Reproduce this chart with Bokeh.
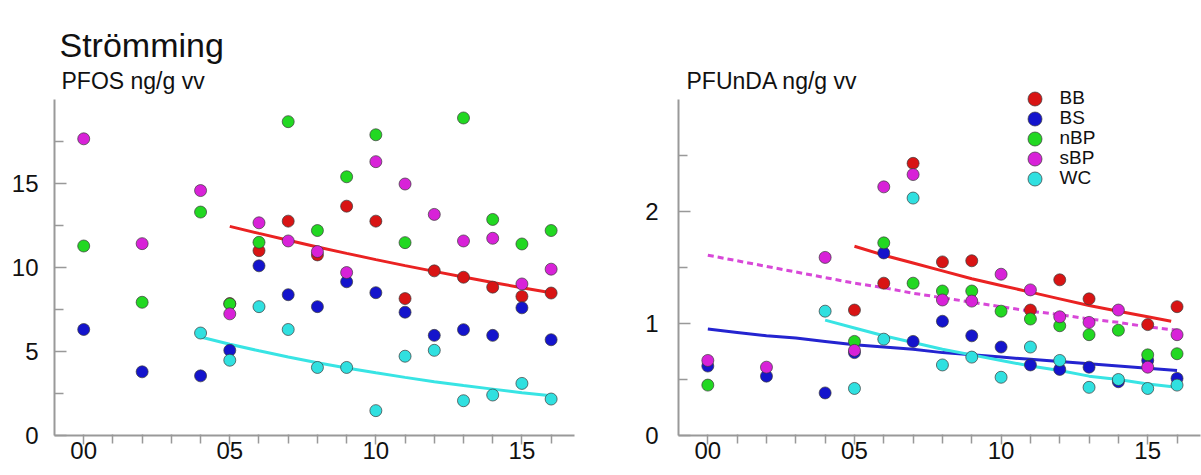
from bokeh.plotting import figure
from bokeh.layouts import row
from bokeh.models import Range1d, FixedTicker, Label, Legend, LegendItem
from bokeh.embed import file_html
from bokeh.resources import INLINE

# ---------------- data ----------------
SERIES = ["BB", "BS", "nBP", "sBP", "WC"]

# PFOS ng/g vv (year offset from 2000)
pfos_BB_years = [5, 6, 7, 8, 9, 10, 11, 12, 13, 14, 15, 16]
pfos_BB = [7.85, 11.0, 12.76, 10.75, 13.65, 12.76, 8.15, 9.8, 9.42, 8.83, 8.28, 8.48]
pfos_BS_years = [0, 2, 4, 5, 6, 7, 8, 9, 10, 11, 12, 13, 14, 15, 16]
pfos_BS = [6.31, 3.79, 3.55, 5.07, 10.1, 8.38, 7.67, 9.15, 8.5, 7.34, 5.96, 6.3, 5.96, 7.6, 5.7]
pfos_nBP_years = [0, 2, 4, 5, 6, 7, 8, 9, 10, 11, 13, 14, 15, 16]
pfos_nBP = [11.28, 7.93, 13.3, 7.83, 11.5, 18.68, 12.2, 15.4, 17.9, 11.48, 18.9, 12.86, 11.4, 12.2]
pfos_sBP_years = [0, 2, 4, 5, 6, 7, 8, 9, 10, 11, 12, 13, 14, 15, 16]
pfos_sBP = [17.66, 11.42, 14.58, 7.24, 12.66, 11.58, 10.95, 9.7, 16.3, 14.97, 13.16, 11.58, 11.74, 9.02, 9.9]
pfos_WC_years = [4, 5, 6, 7, 8, 9, 10, 11, 12, 13, 14, 15, 16]
pfos_WC = [6.1, 4.48, 7.67, 6.31, 4.05, 4.05, 1.48, 4.72, 5.07, 2.07, 2.41, 3.1, 2.17]

# PFOS trend lines
pfos_trend_BB_years = [5, 6, 7, 8, 9, 10, 11, 12, 13, 14, 15, 16]
pfos_trend_BB = [12.45, 12.03, 11.62, 11.22, 10.84, 10.47, 10.11, 9.77, 9.43, 9.11, 8.80, 8.50]
pfos_trend_WC_years = [4, 5, 6, 7, 8, 9, 10, 11, 12, 13, 14, 15, 16]
pfos_trend_WC = [5.86, 5.43, 5.04, 4.67, 4.33, 4.02, 3.73, 3.46, 3.20, 2.97, 2.76, 2.55, 2.37]

# PFUnDA ng/g vv
pfunda_BB_years = [5, 6, 7, 8, 9, 11, 12, 13, 15, 16]
pfunda_BB = [1.12, 1.36, 2.43, 1.55, 1.56, 1.12, 1.39, 1.22, 0.99, 1.15]
pfunda_BS_years = [0, 2, 4, 5, 6, 7, 8, 9, 10, 11, 12, 13, 14, 15, 16]
pfunda_BS = [0.62, 0.53, 0.38, 0.74, 1.63, 0.84, 1.02, 0.89, 0.79, 0.63, 0.59, 0.61, 0.48, 0.67, 0.51]
pfunda_nBP_years = [0, 5, 6, 7, 8, 9, 10, 11, 12, 13, 14, 15, 16]
pfunda_nBP = [0.45, 0.84, 1.72, 1.36, 1.29, 1.29, 1.11, 1.04, 0.98, 0.90, 0.94, 0.72, 0.73]
pfunda_sBP_years = [0, 2, 4, 5, 6, 7, 8, 9, 10, 11, 12, 13, 14, 15, 16]
pfunda_sBP = [0.67, 0.61, 1.59, 0.76, 2.22, 2.33, 1.21, 1.20, 1.44, 1.30, 1.06, 1.01, 1.12, 0.61, 0.90]
pfunda_WC_years = [4, 5, 6, 7, 8, 9, 10, 11, 12, 13, 14, 15, 16]
pfunda_WC = [1.11, 0.42, 0.86, 2.12, 0.63, 0.70, 0.52, 0.79, 0.67, 0.43, 0.50, 0.42, 0.45]

# PFUnDA trend lines
pfunda_trend_BB_years = [5, 6, 7, 8, 9, 10, 11, 12, 13, 14, 15, 15.8]
pfunda_trend_BB = [1.69, 1.61, 1.54, 1.47, 1.40, 1.34, 1.28, 1.22, 1.16, 1.11, 1.06, 1.02]
pfunda_trend_sBP_years = list(range(0, 17))
pfunda_trend_sBP = [1.61, 1.56, 1.51, 1.46, 1.41, 1.36, 1.32, 1.27, 1.23, 1.19, 1.15, 1.11, 1.08, 1.04, 1.01, 0.97, 0.94]
pfunda_trend_BS_years = list(range(0, 17))
pfunda_trend_BS = [0.95, 0.92, 0.89, 0.87, 0.84, 0.81, 0.79, 0.77, 0.74, 0.72, 0.70, 0.68, 0.66, 0.64, 0.62, 0.60, 0.58]
pfunda_trend_WC_years = [4, 5, 6, 7, 8, 9, 10, 11, 12, 13, 14, 15, 16]
pfunda_trend_WC = [1.03, 0.96, 0.89, 0.83, 0.77, 0.72, 0.67, 0.62, 0.58, 0.53, 0.50, 0.46, 0.43]

x_major = [0, 5, 10, 15]
x_labels = ["00", "05", "10", "15"]
x_minor = [1, 2, 3, 4, 6, 7, 8, 9, 11, 12, 13, 14, 16]

title_text = "Strömming"
left_sub = "PFOS ng/g vv"
right_sub = "PFUnDA ng/g vv"

# ---------------- styles ----------------
FILL = {"BB": "#d81414", "BS": "#1414cc", "nBP": "#22d822", "sBP": "#d822d8", "WC": "#30e0e0"}
LINE = {"BB": "#ea2222", "BS": "#2424d0", "sBP": "#d848d8", "WC": "#38e4e4"}
FONT = "Liberation Sans"
AXIS_COL = "#999999"

H = 475
BOTTOM = 40
FRAME_H = H - BOTTOM          # frame spans the full height above the x axis
AXIS_TOP_PX = 99              # where the drawn y axis ends (screen px from top)
X0, X1 = -1.0, 16.8


def make_panel(width, left, right, ymax_axis, yticks, yminor, ystandoff):
    upp = ymax_axis / (FRAME_H - AXIS_TOP_PX)
    ytop = FRAME_H * upp
    p = figure(width=width, height=H, output_backend="svg", toolbar_location=None,
               x_range=Range1d(X0, X1), y_range=Range1d(0, ytop),
               min_border_left=left, min_border_right=right,
               min_border_top=0, min_border_bottom=BOTTOM)
    p.xgrid.visible = False
    p.ygrid.visible = False
    p.outline_line_color = None
    p.background_fill_color = "white"
    p.border_fill_color = "white"

    xa = p.xaxis[0]
    xa.ticker = FixedTicker(ticks=x_major, minor_ticks=x_minor)
    xa.major_label_overrides = {t: l for t, l in zip(x_major, x_labels)}
    xa.major_tick_in = 1
    xa.major_tick_out = 9
    xa.minor_tick_in = 1
    xa.minor_tick_out = 8
    xa.major_label_standoff = -3

    ya = p.yaxis[0]
    ya.bounds = (0, ymax_axis)
    ya.ticker = FixedTicker(ticks=yticks, minor_ticks=yminor)
    ya.major_tick_in = 12
    ya.major_tick_out = 0
    ya.minor_tick_in = 9
    ya.minor_tick_out = 0
    ya.major_label_standoff = ystandoff

    for ax in (xa, ya):
        ax.axis_line_color = AXIS_COL
        ax.axis_line_width = 2
        ax.major_tick_line_color = AXIS_COL
        ax.minor_tick_line_color = AXIS_COL
        ax.major_tick_line_width = 1.5
        ax.minor_tick_line_width = 1.5
        ax.major_label_text_font = FONT
        ax.major_label_text_font_size = "24px"
        ax.major_label_text_color = "#111111"
    return p, upp


def add_points(p, data):
    rends = {}
    for s in SERIES:
        if s not in data:
            continue
        xs, ys = data[s]
        rends[s] = p.scatter(xs, ys, marker="circle", size=12,
                             fill_color=FILL[s], line_color="#3a3a3a",
                             line_width=1, line_alpha=0.7)
    return rends


def add_trend(p, xs, ys, s, dash="solid"):
    p.line(xs, ys, line_color=LINE[s], line_width=3, line_dash=dash)


def px_to_data(px, py, left, fw, upp):
    x = X0 + (px - left) / fw * (X1 - X0)
    y = (FRAME_H - py) * upp
    return x, y


def add_text(p, px, py, left, fw, upp, text, size):
    x, y = px_to_data(px, py, left, fw, upp)
    p.add_layout(Label(x=x, y=y, text=text, text_font=FONT, text_font_size=size,
                       text_color="#111111", text_align="left", text_baseline="alphabetic"))


# ---------------- left panel: PFOS ----------------
LW, LL, LR = 620, 54, 46
p1, upp1 = make_panel(LW, LL, LR, 20, [0, 5, 10, 15], [2.5, 7.5, 12.5, 17.5], 16)
add_trend(p1, pfos_trend_BB_years, pfos_trend_BB, "BB")
add_trend(p1, pfos_trend_WC_years, pfos_trend_WC, "WC")
add_points(p1, {"BB": (pfos_BB_years, pfos_BB), "BS": (pfos_BS_years, pfos_BS),
                "nBP": (pfos_nBP_years, pfos_nBP), "sBP": (pfos_sBP_years, pfos_sBP),
                "WC": (pfos_WC_years, pfos_WC)})
fw1 = LW - LL - LR
add_text(p1, 59, 44, LL, fw1, upp1, title_text, "34px")
add_text(p1, 61, 80, LL, fw1, upp1, left_sub, "23px")

# ---------------- right panel: PFUnDA ----------------
RW, RL, RR = 581, 58, 1
p2, upp2 = make_panel(RW, RL, RR, 3, [0, 1, 2], [0.5, 1.5, 2.5], 20)
add_trend(p2, pfunda_trend_BB_years, pfunda_trend_BB, "BB")
add_trend(p2, pfunda_trend_sBP_years, pfunda_trend_sBP, "sBP", dash="6 4")
add_trend(p2, pfunda_trend_BS_years, pfunda_trend_BS, "BS")
add_trend(p2, pfunda_trend_WC_years, pfunda_trend_WC, "WC")
r2 = add_points(p2, {"BB": (pfunda_BB_years, pfunda_BB), "BS": (pfunda_BS_years, pfunda_BS),
                     "nBP": (pfunda_nBP_years, pfunda_nBP), "sBP": (pfunda_sBP_years, pfunda_sBP),
                     "WC": (pfunda_WC_years, pfunda_WC)})
fw2 = RW - RL - RR
add_text(p2, 686 - LW, 80, RL, fw2, upp2, right_sub, "23px")

# legend: one entry per row, 20 px apart, large glyph boxes for 14 px markers
GLYPH = 35
LEG_CX = 1034 - LW          # marker centre, in this figure's canvas px
LEG_Y0 = 98                 # first row centre (px from top)
LEG_DY = 20
for i, s in enumerate(SERIES):
    cy = LEG_Y0 + i * LEG_DY
    leg = Legend(items=[LegendItem(label=s, renderers=[r2[s]])],
                 location=(LEG_CX - GLYPH / 2 - RL, FRAME_H - (cy + GLYPH / 2)),
                 orientation="vertical", glyph_width=GLYPH, glyph_height=GLYPH,
                 spacing=0, padding=0, margin=0, label_standoff=8,
                 label_text_font=FONT, label_text_font_size="19px",
                 label_text_color="#111111", label_height=20,
                 border_line_alpha=0, background_fill_alpha=0)
    p2.add_layout(leg)

layout = row(p1, p2)
open("out.html", "w").write(file_html(layout, INLINE))
